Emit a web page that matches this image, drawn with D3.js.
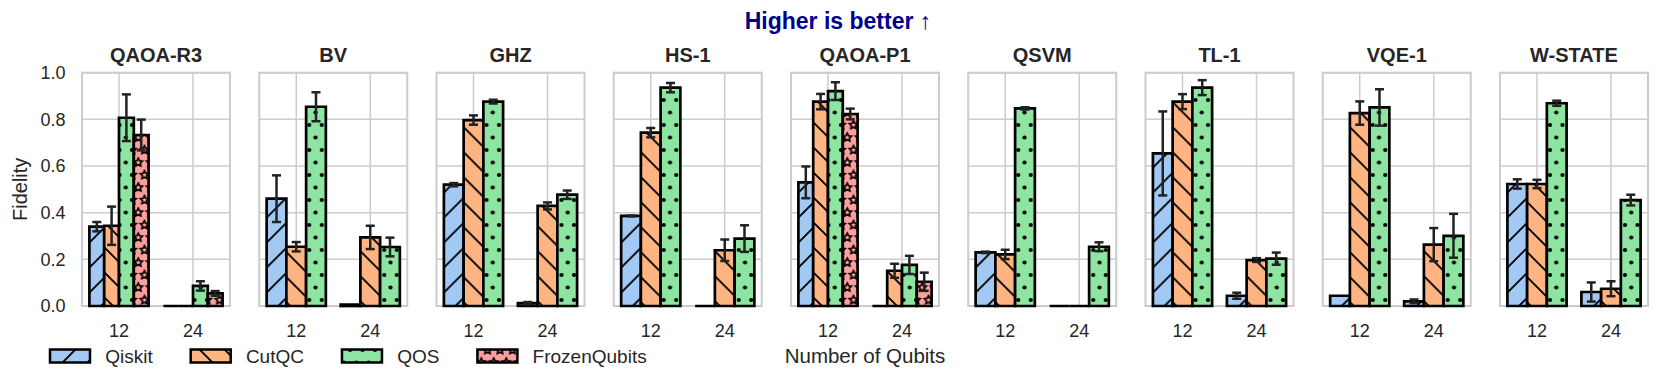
<!DOCTYPE html>
<html>
<head>
<meta charset="utf-8">
<script src="https://cdn.jsdelivr.net/npm/d3@7"></script>
<style>
  body { margin: 0; background: #fff; }
  text { font-family: "Liberation Sans", Arial, Helvetica, sans-serif; fill: #262626; }
</style>
</head>
<body>
<div id="chart"></div>
<script>
var benchmarks = ["QAOA-R3", "BV", "GHZ", "HS-1", "QAOA-P1", "QSVM", "TL-1", "VQE-1", "W-STATE"];
var qubitSizes = ["12", "24"];
var methods = ["Qiskit", "CutQC", "QOS", "FrozenQubits"];
var yTicks = [0, 0.2, 0.4, 0.6, 0.8, 1.0];

// fidelity per benchmark as [12 qubits, 24 qubits]; null = method not run
var qiskitMean = [[0.34, 0], [0.46, 0.006], [0.52, 0.012], [0.386, 0], [0.53, 0], [0.23, 0], [0.654, 0.044], [0.044, 0.02], [0.523, 0.06]];
var qiskitErr  = [[0.02, 0], [0.1, 0], [0.007, 0.005], [0.002, 0], [0.068, 0], [0.003, 0], [0.18, 0.013], [0, 0.008], [0.02, 0.041]];
var cutqcMean  = [[0.344, 0], [0.254, 0.294], [0.797, 0.429], [0.743, 0.239], [0.876, 0.151], [0.221, 0], [0.876, 0.197], [0.827, 0.263], [0.523, 0.074]];
var cutqcErr   = [[0.082, 0], [0.02, 0.05], [0.02, 0.015], [0.02, 0.046], [0.033, 0.03], [0.02, 0], [0.032, 0.008], [0.05, 0.071], [0.018, 0.032]];
var qosMean    = [[0.807, 0.086], [0.854, 0.253], [0.876, 0.477], [0.936, 0.289], [0.921, 0.176], [0.847, 0.254], [0.936, 0.203], [0.851, 0.301], [0.869, 0.454]];
var qosErr     = [[0.1, 0.02], [0.062, 0.04], [0.008, 0.018], [0.02, 0.057], [0.038, 0.039], [0.005, 0.019], [0.032, 0.026], [0.078, 0.094], [0.011, 0.023]];
var frozenMean = [[0.733, 0.054], null, null, null, [0.823, 0.104], null, null, null, null];
var frozenErr  = [[0.066, 0.01], null, null, null, [0.023, 0.039], null, null, null, null];

var means = {Qiskit: qiskitMean, CutQC: cutqcMean, QOS: qosMean, FrozenQubits: frozenMean};
var errs = {Qiskit: qiskitErr, CutQC: cutqcErr, QOS: qosErr, FrozenQubits: frozenErr};
var colors = {Qiskit: "#a1c9f4", CutQC: "#ffb482", QOS: "#8de5a1", FrozenQubits: "#ff9f9b"};
var hatches = {Qiskit: "ne", CutQC: "nw", QOS: "dots", FrozenQubits: "stars"};

var W = 1661, H = 388;
var plotTop = 72.7, plotBottom = 306;

var svg = d3.select("#chart").append("svg")
	.attr("width", W)
	.attr("height", H);

// hatch patterns, like matplotlib's "/", "\\", ".." and "**"
var defs = svg.append("defs");
var L = 25, d = 12.5;
function starPath(r) {
	var pts = d3.range(10).map(function(i) {
		var a = -Math.PI / 2 + i * Math.PI / 5, rr = i % 2 ? r * 0.5 : r;
		return [Math.cos(a) * rr, Math.sin(a) * rr];
	});
	return "M" + pts.join("L") + "Z";
}
methods.forEach(function(m) {
	var kind = hatches[m];
	var p = defs.append("pattern")
		.attr("id", "pat-" + m)
		.attr("patternUnits", "userSpaceOnUse");
	if(kind == "ne" || kind == "nw") {
		p.attr("width", L).attr("height", L);
		p.append("rect").attr("width", L).attr("height", L).attr("fill", colors[m]);
		var path = kind == "ne"
			? "M0," + L + "L" + L + ",0M-2,2L2,-2M" + (L - 2) + "," + (L + 2) + "L" + (L + 2) + "," + (L - 2)
			: "M0,0L" + L + "," + L + "M-2," + (L - 2) + "L2," + (L + 2) + "M" + (L - 2) + ",-2L" + (L + 2) + ",2";
		p.append("path").attr("d", path).attr("stroke", "#000").attr("stroke-width", 1.9);
	} else {
		p.attr("width", d).attr("height", 2 * d);
		p.append("rect").attr("width", d).attr("height", 2 * d).attr("fill", colors[m]);
		var spots = [[0, 0], [d, 0], [0, 2 * d], [d, 2 * d], [d / 2, d]];
		spots.forEach(function(s) {
			if(kind == "dots") {
				p.append("circle").attr("cx", s[0]).attr("cy", s[1]).attr("r", 2.1).attr("fill", "#000");
			} else {
				p.append("path")
					.attr("transform", "translate(" + s[0] + "," + s[1] + ")")
					.attr("d", starPath(4.4))
					.attr("fill", "none")
					.attr("stroke", "#000")
					.attr("stroke-width", 1.7);
			}
		});
	}
});

var panelX = d3.scaleBand()
	.domain(benchmarks)
	.range([82, 1648])
	.paddingInner(0.165);
var pw = panelX.bandwidth();

var y = d3.scaleLinear()
	.domain([0, 1])
	.range([plotBottom, plotTop]);

var x = d3.scaleBand()
	.domain(qubitSizes)
	.range([0, pw])
	.paddingInner(0.2)
	.paddingOuter(0.1);

benchmarks.forEach(function(b, i) {
	var g = svg.append("g")
		.attr("transform", "translate(" + panelX(b) + ",0)");

	g.selectAll(".hgrid")
		.data(yTicks)
		.enter().append("line")
		.attr("x1", 0).attr("x2", pw)
		.attr("y1", function(t) { return y(t); })
		.attr("y2", function(t) { return y(t); })
		.attr("stroke", "#cccccc")
		.attr("stroke-width", 1.5);

	g.selectAll(".vgrid")
		.data(qubitSizes)
		.enter().append("line")
		.attr("x1", function(s) { return x(s) + x.bandwidth() / 2; })
		.attr("x2", function(s) { return x(s) + x.bandwidth() / 2; })
		.attr("y1", plotTop).attr("y2", plotBottom)
		.attr("stroke", "#cccccc")
		.attr("stroke-width", 1.5);

	g.append("rect")
		.attr("x", 0).attr("y", plotTop)
		.attr("width", pw).attr("height", plotBottom - plotTop)
		.attr("fill", "none")
		.attr("stroke", "#cccccc")
		.attr("stroke-width", 2);

	var present = methods.filter(function(m) { return means[m][i] != null; });
	var sub = d3.scaleBand()
		.domain(present)
		.range([0, x.bandwidth()]);

	var bars = [];
	qubitSizes.forEach(function(s, j) {
		present.forEach(function(m) {
			bars.push({m: m, s: s, v: means[m][i][j], e: errs[m][i][j]});
		});
	});

	g.selectAll(".bar")
		.data(bars)
		.enter().append("path")
		.attr("class", "bar")
		.attr("d", function(r) {
			var x0 = x(r.s) + sub(r.m), x1 = x0 + sub.bandwidth();
			return "M" + x0 + "," + y(0) + "H" + x1 + "V" + y(r.v) + "H" + x0 + "Z";
		})
		.attr("fill", function(r) { return "url(#pat-" + r.m + ")"; })
		.attr("stroke", "#000")
		.attr("stroke-width", 2.7);

	var eb = g.selectAll(".err")
		.data(bars.filter(function(r) { return r.e > 0; }))
		.enter().append("g")
		.attr("class", "err")
		.attr("stroke", "#222")
		.attr("stroke-width", 2.5);
	eb.append("line")
		.attr("x1", function(r) { return x(r.s) + sub(r.m) + sub.bandwidth() / 2; })
		.attr("x2", function(r) { return x(r.s) + sub(r.m) + sub.bandwidth() / 2; })
		.attr("y1", function(r) { return y(r.v - r.e); })
		.attr("y2", function(r) { return y(r.v + r.e); });
	[-1, 1].forEach(function(sign) {
		eb.append("line")
			.attr("x1", function(r) { return x(r.s) + sub(r.m) + sub.bandwidth() / 2 - 4.5; })
			.attr("x2", function(r) { return x(r.s) + sub(r.m) + sub.bandwidth() / 2 + 4.5; })
			.attr("y1", function(r) { return y(r.v + sign * r.e); })
			.attr("y2", function(r) { return y(r.v + sign * r.e); });
	});

	g.append("text")
		.attr("x", pw / 2)
		.attr("y", 62)
		.attr("text-anchor", "middle")
		.style("font-size", "20px")
		.style("font-weight", "bold")
		.text(b);

	var xAxis = g.append("g")
		.attr("transform", "translate(0," + plotBottom + ")")
		.call(d3.axisBottom(x).tickSize(0).tickPadding(18));
	xAxis.select(".domain").remove();
	xAxis.selectAll("text")
		.style("font-size", "18px")
		.style("font-family", "'Liberation Sans', Arial, sans-serif")
		.attr("fill", "#262626");

	if(i == 0) {
		var yAxis = g.append("g")
			.call(d3.axisLeft(y).tickValues(yTicks).tickFormat(d3.format(".1f")).tickSize(0).tickPadding(16.5));
		yAxis.select(".domain").remove();
		yAxis.selectAll("text")
			.style("font-size", "18px")
			.style("font-family", "'Liberation Sans', Arial, sans-serif")
			.attr("fill", "#262626");
	}
});

svg.append("text")
	.attr("transform", "translate(27," + ((plotTop + plotBottom) / 2) + ") rotate(-90)")
	.attr("text-anchor", "middle")
	.style("font-size", "20px")
	.text("Fidelity");

svg.append("text")
	.attr("x", 865)
	.attr("y", 362.7)
	.attr("text-anchor", "middle")
	.style("font-size", "20.5px")
	.text("Number of Qubits");

svg.append("text")
	.attr("x", 838)
	.attr("y", 29.3)
	.attr("text-anchor", "middle")
	.style("font-size", "23px")
	.style("font-weight", "bold")
	.style("fill", "#00008b")
	.text("Higher is better \u2191");

// legend, laid out like matplotlib: handle, pad, label, column gap
var legend = svg.append("g");
var lx = 50, ly = 356, fs = 19;
methods.forEach(function(m) {
	legend.append("rect")
		.attr("x", lx).attr("y", ly - 6.5)
		.attr("width", 40).attr("height", 13)
		.attr("fill", "url(#pat-" + m + ")")
		.attr("stroke", "#000")
		.attr("stroke-width", 2.5);
	var t = legend.append("text")
		.attr("x", lx + 40 + 0.8 * fs)
		.attr("y", ly)
		.attr("dominant-baseline", "central")
		.style("font-size", fs + "px")
		.text(m);
	lx = lx + 40 + 0.8 * fs + t.node().getComputedTextLength() + 2 * fs;
});
</script>
</body>
</html>
